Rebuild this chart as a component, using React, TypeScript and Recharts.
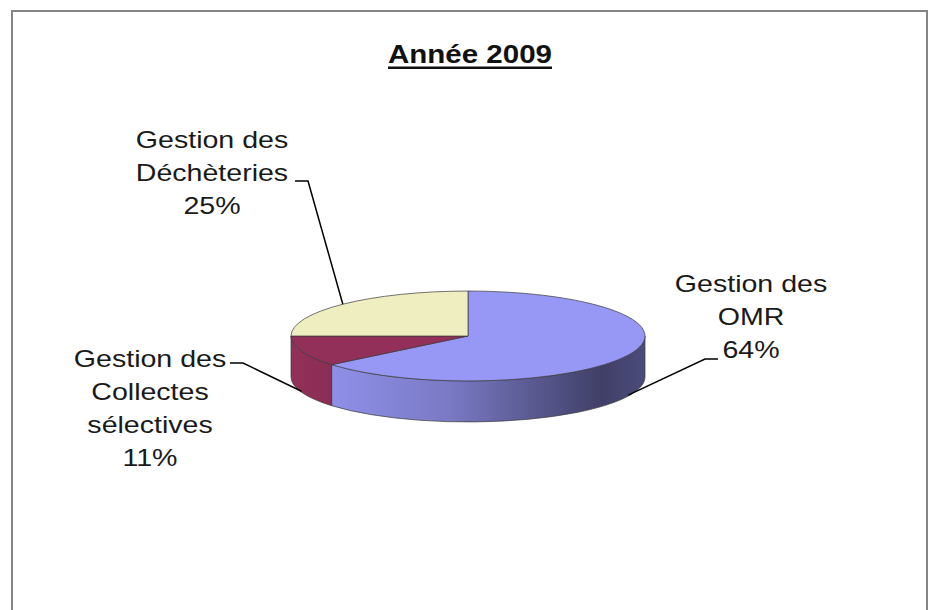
import React from "react";
import { PieChart, Pie, Cell } from "recharts";

// --- data ---
const categories = ["Gestion des OMR", "Gestion des Collectes sélectives", "Gestion des Déchèteries"];
const shares = [64, 11, 25];
const labelLines = [["Gestion des", "OMR"], ["Gestion des", "Collectes", "sélectives"], ["Gestion des", "Déchèteries"]];
const title = "Année 2009";

// --- styling / layout ---
const topColors = ["#9797f5", "#923059", "#eeeec0"];
const TILT = 0.254; // ry / rx of the flattened pie
const DEPTH = 41; // thickness of the 3D wall in px
const RAD = Math.PI / 180;
const FONT = "'Liberation Sans', Arial, sans-serif";
const STRETCH = 1.19; // the original was stretched horizontally
const LINE_H = 33;

// where Excel's labels were dragged to (text centre / first baseline, elbow of the leader line)
const labelLayout = [
  { x: 751, y: 292, elbowX: 705, elbowY: 359, tailX: 718 },
  { x: 150, y: 367, elbowX: 243, elbowY: 363, tailX: 230 },
  { x: 212, y: 148, elbowX: 308, elbowY: 181, tailX: 295 },
];

const data = categories.map((name, i) => ({ name, value: shares[i] }));

function shade(hex: string, f: number) {
  const n = parseInt(hex.slice(1), 16);
  const c = [(n >> 16) & 255, (n >> 8) & 255, n & 255].map((v) => Math.max(0, Math.min(255, Math.round(v * f))));
  return `rgb(${c[0]},${c[1]},${c[2]})`;
}

function Slice3D(props: any) {
  const { cx, cy, outerRadius, startAngle, endAngle, fill, index } = props;
  const rx = outerRadius;
  const ry = rx * TILT;
  const pt = (a: number, dy = 0) => `${cx + rx * Math.cos(a * RAD)},${cy - ry * Math.sin(a * RAD) + dy}`;
  const hi = Math.max(startAngle, endAngle);
  const lo = Math.min(startAngle, endAngle);
  const large = hi - lo > 180 ? 1 : 0;
  const gid = `wall-${index}`;

  // front-facing part(s) of the outer edge get a wall
  const walls: string[] = [];
  for (let k = -1; k <= 1; k++) {
    const a = Math.max(lo, k * 360 - 180);
    const b = Math.min(hi, k * 360);
    if (b > a) {
      walls.push(`M${pt(b)} A${rx},${ry} 0 0 1 ${pt(a)} L${pt(a, DEPTH)} A${rx},${ry} 0 0 0 ${pt(b, DEPTH)} Z`);
    }
  }

  return (
    <g>
      <defs>
        <linearGradient id={gid} gradientUnits="userSpaceOnUse" x1={cx - rx} y1={0} x2={cx + rx} y2={0}>
          <stop offset="0" stopColor={shade(fill, 1.0)} />
          <stop offset="0.45" stopColor={shade(fill, 0.8)} />
          <stop offset="0.88" stopColor={shade(fill, 0.42)} />
          <stop offset="1" stopColor={shade(fill, 0.5)} />
        </linearGradient>
      </defs>
      {walls.map((d, i) => (
        <path key={i} d={d} fill={`url(#${gid})`} stroke="#3a3a3a" strokeWidth={0.7} />
      ))}
      <path
        d={`M${cx},${cy} L${pt(hi)} A${rx},${ry} 0 ${large} 1 ${pt(lo)} Z`}
        fill={fill}
        stroke="#3a3a3a"
        strokeWidth={0.7}
      />
    </g>
  );
}

const renderLabel = (props: any) => {
  const { cx, cy, midAngle, outerRadius, index, percent } = props;
  const cfg = labelLayout[index];
  const rx = outerRadius;
  const ry = rx * TILT;
  const m = midAngle * RAD;
  const ex = cx + rx * Math.cos(m);
  let ey = cy - ry * Math.sin(m);
  if (Math.sin(m) < 0) ey += DEPTH - 1;
  const lines = [...labelLines[index], `${Math.round(percent * 100)}%`];
  return (
    <g key={`lbl-${index}`}>
      <polyline
        points={`${ex},${ey} ${cfg.elbowX},${cfg.elbowY} ${cfg.tailX},${cfg.elbowY}`}
        fill="none"
        stroke="#000"
        strokeWidth={1.5}
      />
      <text
        transform={`translate(${cfg.x},${cfg.y}) scale(${STRETCH},1)`}
        textAnchor="middle"
        fontFamily={FONT}
        fontSize={24}
        fill="#1a1a1a"
      >
        {lines.map((l, i) => (
          <tspan key={i} x={0} dy={i === 0 ? 0 : LINE_H}>
            {l}
          </tspan>
        ))}
      </text>
    </g>
  );
};

export default function App() {
  return (
    <div style={{ position: "absolute", left: 0, top: 0, width: 932, height: 610, background: "#fff", overflow: "hidden" }}>
      <svg width={932} height={610} style={{ position: "absolute", left: 0, top: 0 }}>
        <rect x={12} y={11} width={915} height={640} fill="#fff" stroke="#858585" strokeWidth={2} />
        <text
          transform={`translate(470,63) scale(1.18,1)`}
          textAnchor="middle"
          fontFamily={FONT}
          fontWeight="bold"
          fontSize={25}
          fill="#111"
        >
          {title}
        </text>
        <rect x={388} y={66.5} width={164} height={2.5} fill="#111" />
      </svg>
      <div style={{ position: "absolute", left: 0, top: 0 }}>
        <PieChart width={932} height={610} margin={{ top: 0, right: 0, bottom: 0, left: 0 }}>
          <Pie
            data={data}
            dataKey="value"
            nameKey="name"
            cx={468}
            cy={336}
            outerRadius={177}
            startAngle={90}
            endAngle={-270}
            isAnimationActive={false}
            labelLine={false}
            label={renderLabel}
            shape={Slice3D}
            activeShape={Slice3D}
            inactiveShape={Slice3D}
          >
            {data.map((d, i) => (
              <Cell key={d.name} fill={topColors[i]} />
            ))}
          </Pie>
        </PieChart>
      </div>
    </div>
  );
}
